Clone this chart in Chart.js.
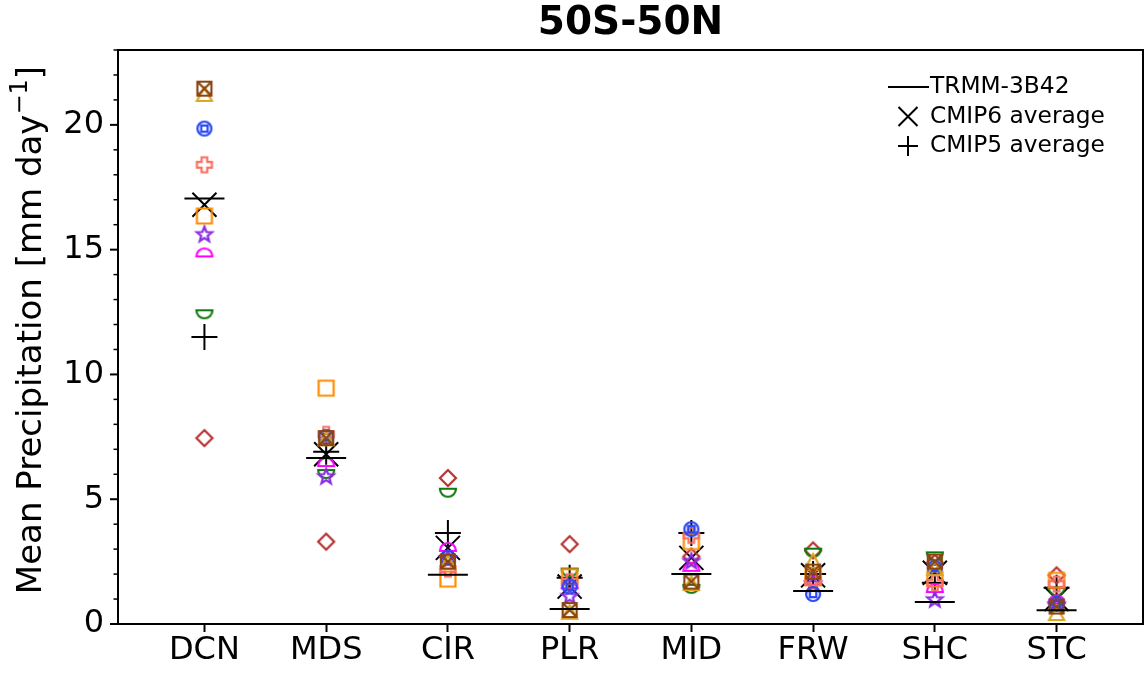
<!DOCTYPE html>
<html>
<head>
<meta charset="utf-8">
<script src="https://cdn.jsdelivr.net/npm/chart.js@4.4.0/dist/chart.umd.min.js"></script>
<style>
  html, body { margin: 0; padding: 0; background: #fff; overflow: hidden; }
  #precip { display: block; }
</style>
</head>
<body>
<canvas id="precip" width="1147" height="677"></canvas>
<script>
const regions = ['DCN', 'MDS', 'CIR', 'PLR', 'MID', 'FRW', 'SHC', 'STC'];
const yTicks = [0, 5, 10, 15, 20];

// observed and ensemble means, mm/day
const trmm     = [17.05, 6.65, 1.97, 0.60, 2.00, 1.32, 0.88, 0.55];
const cmip6Avg = [16.80, 6.80, 3.05, 1.50, 2.65, 1.95, 2.05, 1.00];
const cmip5Avg = [11.50, 6.90, 3.65, 1.85, 3.65, 2.00, 1.65, 1.45];

// individual models
const model1 = [21.45, 7.45, 2.50, 0.56, 1.70, 2.10, 2.50, 0.70];  // brown box-x
const model2 = [21.20, 7.40, 2.45, 0.45, 1.60, 2.50, 2.20, 0.40];  // gold triangle
const model3 = [19.85, 7.50, 2.65, 1.50, 3.80, 1.20, 2.25, 0.80];  // blue circle
const model4 = [18.40, 7.60, 2.20, 1.70, 3.55, 1.75, 1.65, 1.60];  // salmon plus
const model5 = [16.35, 9.45, 1.80, 1.90, 3.30, 1.85, 1.80, 1.75];  // orange square
const model6 = [15.60, 5.90, 2.60, 1.10, 2.50, 1.60, 0.97, 0.75];  // purple star
const model7 = [14.85, 6.45, 3.05, 1.55, 2.25, 1.70, 1.40, 0.95];  // magenta dome
const model8 = [12.45, 6.05, 5.30, 2.10, 1.45, 2.90, 2.75, 1.35];  // green bowl
const model9 = [7.45, 3.30, 5.85, 3.20, 2.70, 2.95, 2.45, 1.95];   // red diamond

const FONT = 'DejaVu Sans';
Chart.defaults.font.family = FONT;
Chart.defaults.color = '#000';

// small unfilled marker glyphs
function marker(shape, color) {
  const size = 24;
  const c = document.createElement('canvas');
  c.width = size; c.height = size;
  const g = c.getContext('2d');
  g.strokeStyle = color;
  g.lineWidth = 2.2;
  g.translate(size / 2, size / 2);
  g.beginPath();
  if (shape === 'xbox') {
    g.rect(-7, -7, 14, 14);
    g.moveTo(-7, -7); g.lineTo(7, 7);
    g.moveTo(7, -7); g.lineTo(-7, 7);
  } else if (shape === 'triangle') {
    g.moveTo(0, -7.5); g.lineTo(7.5, 6); g.lineTo(-7.5, 6); g.closePath();
  } else if (shape === 'circsq') {
    g.arc(0, 0, 7, 0, Math.PI * 2);
    g.moveTo(3.2, -3.2); g.rect(-3.2, -3.2, 6.4, 6.4);
  } else if (shape === 'plus') {
    const a = 2.8, b = 7.5;
    const pts = [[-a,-b],[a,-b],[a,-a],[b,-a],[b,a],[a,a],[a,b],[-a,b],[-a,a],[-b,a],[-b,-a],[-a,-a]];
    pts.forEach((p, i) => i ? g.lineTo(p[0], p[1]) : g.moveTo(p[0], p[1]));
    g.closePath();
  } else if (shape === 'square') {
    g.rect(-7.5, -7.5, 15, 15);
  } else if (shape === 'star') {
    for (let i = 0; i < 10; i++) {
      const r = i % 2 ? 3.4 : 8;
      const t = -Math.PI / 2 + i * Math.PI / 5;
      i ? g.lineTo(r * Math.cos(t), r * Math.sin(t)) : g.moveTo(r * Math.cos(t), r * Math.sin(t));
    }
    g.closePath();
  } else if (shape === 'dome') {
    g.arc(0, 3, 8, Math.PI, Math.PI * 2); g.closePath();
  } else if (shape === 'bowl') {
    g.arc(0, -3, 8, 0, Math.PI); g.closePath();
  } else if (shape === 'diamond') {
    g.moveTo(0, -8); g.lineTo(8, 0); g.lineTo(0, 8); g.lineTo(-8, 0); g.closePath();
  }
  g.stroke();
  return c;
}

const pts = vals => vals.map((v, i) => ({ x: i, y: v }));

const models = [
  [model1, 'xbox', '#8B4513'],
  [model2, 'triangle', '#DAA520'],
  [model3, 'circsq', '#2747F5'],
  [model4, 'plus', '#FA7060'],
  [model5, 'square', '#FF8C00'],
  [model6, 'star', '#8A2BE2'],
  [model7, 'dome', '#FF00FF'],
  [model8, 'bowl', '#11780F'],
  [model9, 'diamond', '#B83030'],
];

const datasets = [{
  label: 'TRMM-3B42',
  data: pts(trmm),
  pointStyle: 'line',
  pointRadius: 20,
  borderColor: '#000',
  pointBorderWidth: 2,
}];
models.forEach(([vals, shape, color], k) => {
  datasets.push({
    label: 'model ' + (k + 1),
    data: pts(vals),
    pointStyle: marker(shape, color),
    pointRadius: 12,
  });
});
datasets.push({
  label: 'CMIP6 average',
  data: pts(cmip6Avg),
  pointStyle: 'crossRot',
  pointRadius: 17,
  borderColor: '#000',
  pointBorderWidth: 2,
}, {
  label: 'CMIP5 average',
  data: pts(cmip5Avg),
  pointStyle: 'cross',
  pointRadius: 13,
  borderColor: '#000',
  pointBorderWidth: 2,
});

// box around the plot, y tick marks (major / minor), title and y label
const frame = {
  id: 'frame',
  afterDatasetsDraw(chart) {
    const { ctx, chartArea: a, scales: { y } } = chart;
    ctx.save();
    ctx.strokeStyle = '#000';
    y.ticks.forEach(t => {
      const py = y.getPixelForValue(t.value);
      const major = yTicks.includes(t.value);
      ctx.lineWidth = major ? 2 : 1.5;
      ctx.beginPath();
      ctx.moveTo(a.left - (major ? 8 : 4.5), py);
      ctx.lineTo(a.left, py);
      ctx.stroke();
    });
    ctx.lineWidth = 2;
    ctx.strokeRect(a.left, a.top, a.right - a.left, a.bottom - a.top);

    ctx.fillStyle = '#000';
    ctx.textAlign = 'center';
    ctx.textBaseline = 'middle';
    ctx.font = 'bold 39px "' + FONT + '"';
    ctx.fillText('50S-50N', (a.left + a.right) / 2, 24);

    // y label with a real superscript
    const main = 'Mean Precipitation [mm day', sup = '\u22121', tail = ']';
    const big = '34px "' + FONT + '"', small = '24px "' + FONT + '"';
    ctx.font = big;
    const w1 = ctx.measureText(main).width, w3 = ctx.measureText(tail).width;
    ctx.font = small;
    const w2 = ctx.measureText(sup).width;
    ctx.translate(29, 330);
    ctx.rotate(-Math.PI / 2);
    ctx.textAlign = 'left';
    ctx.textBaseline = 'alphabetic';
    let x = -(w1 + w2 + w3) / 2;
    ctx.font = big;
    ctx.fillText(main, x, 12);
    x += w1;
    ctx.font = small;
    ctx.fillText(sup, x, -2);
    x += w2;
    ctx.font = big;
    ctx.fillText(tail, x, 12);
    ctx.restore();
  }
};

// three-entry key in the upper right corner
const keyBox = {
  id: 'keyBox',
  afterDraw(chart) {
    const { ctx, chartArea: a } = chart;
    const x0 = a.right - 255, y0 = a.top + 37, dy = 29.5;
    ctx.save();
    ctx.strokeStyle = '#000';
    ctx.lineWidth = 2;
    ctx.beginPath();
    ctx.moveTo(x0, y0); ctx.lineTo(x0 + 41, y0);
    const cx = x0 + 20, y1 = y0 + dy, y2 = y0 + 2 * dy;
    ctx.moveTo(cx - 9.5, y1 - 9.5); ctx.lineTo(cx + 9.5, y1 + 9.5);
    ctx.moveTo(cx + 9.5, y1 - 9.5); ctx.lineTo(cx - 9.5, y1 + 9.5);
    ctx.moveTo(cx - 10, y2); ctx.lineTo(cx + 10, y2);
    ctx.moveTo(cx, y2 - 10); ctx.lineTo(cx, y2 + 10);
    ctx.stroke();
    ctx.fillStyle = '#000';
    ctx.font = '23.3px "' + FONT + '"';
    ctx.textBaseline = 'middle';
    ctx.fillText('TRMM-3B42', x0 + 42, y0);
    ctx.fillText('CMIP6 average', x0 + 42, y1);
    ctx.fillText('CMIP5 average', x0 + 42, y2);
    ctx.restore();
  }
};

new Chart(document.getElementById('precip'), {
  type: 'scatter',
  data: { datasets },
  options: {
    responsive: false,
    animation: false,
    events: [],
    layout: { autoPadding: false, padding: { left: 4, right: 4, top: 50, bottom: 0 } },
    plugins: {
      legend: { display: false },
      tooltip: { enabled: false },
    },
    scales: {
      x: {
        type: 'linear',
        min: -0.71,
        max: 7.71,
        afterBuildTicks: s => { s.ticks = regions.map((_, i) => ({ value: i })); },
        afterFit: s => { s.height = 53; s.paddingLeft = 0; s.paddingRight = 0; },
        ticks: {
          callback: v => regions[v],
          font: { size: 32 },
          color: '#000',
          autoSkip: false,
          maxRotation: 0,
          padding: -1,
        },
        grid: { drawOnChartArea: false, tickLength: 8, tickWidth: 2, tickColor: '#000' },
        border: { display: false },
      },
      y: {
        min: 0,
        max: 23,
        afterFit: s => { s.width = 114; s.paddingTop = 0; s.paddingBottom = 0; },
        ticks: {
          stepSize: 1,
          callback: v => yTicks.includes(v) ? v : '',
          font: { size: 32 },
          color: '#000',
          padding: 14,
          autoSkip: false,
        },
        grid: { display: false, drawTicks: false },
        border: { display: false },
      },
    },
  },
  plugins: [frame, keyBox],
});
</script>
</body>
</html>
